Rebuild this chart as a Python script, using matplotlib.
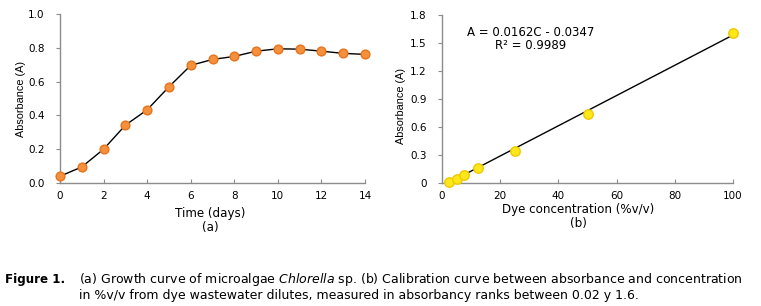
import matplotlib
matplotlib.use("Agg")
import matplotlib.pyplot as plt
import numpy as np

# (a) growth curve
days = [0, 1, 2, 3, 4, 5, 6, 7, 8, 9, 10, 11, 12, 13, 14]
absorb_a = [0.04, 0.095, 0.20, 0.342, 0.433, 0.569, 0.696, 0.731, 0.749, 0.78, 0.794, 0.792, 0.78, 0.767, 0.761]
# (b) calibration curve
conc = [2.5, 5, 7.5, 12.5, 25, 50, 100]
absorb_b = [0.01, 0.04, 0.09, 0.164, 0.343, 0.739, 1.607]
slope, intercept = 0.0162, -0.0347

a_xticks = [0, 2, 4, 6, 8, 10, 12, 14]
a_yticks = [0.0, 0.2, 0.4, 0.6, 0.8, 1.0]
b_xticks = [0, 20, 40, 60, 80, 100]
b_yticks = [0, 0.3, 0.6, 0.9, 1.2, 1.5, 1.8]
b_yticklabels = ["0", "0.3", "0.6", "0.9", "1.2", "1.5", "1.8"]

W, H = 761, 306
fig = plt.figure(figsize=(W / 100, H / 100), dpi=100)

def style(ax):
    for s in ["top", "right"]:
        ax.spines[s].set_visible(False)
    for s in ["left", "bottom"]:
        ax.spines[s].set_color("#8c8c8c")
        ax.spines[s].set_linewidth(1.0)
    ax.tick_params(axis="x", direction="in", length=3, color="#8c8c8c", labelsize=7.5, pad=6)
    ax.tick_params(axis="y", direction="out", length=3, color="#8c8c8c", labelsize=7.5, pad=8)

ax1 = fig.add_axes([60 / W, 1 - 183 / H, 305 / W, 169 / H])
ax1.plot(days, absorb_a, color="black", lw=1.0, zorder=2)
ax1.plot(days, absorb_a, "o", ms=6.3, mfc="#f5913c", mec="#e8731c", mew=1.0, zorder=3, clip_on=False)
ax1.set_xlim(0, 14)
ax1.set_ylim(0, 1.0)
ax1.set_xticks(a_xticks)
ax1.set_yticks(a_yticks)
ax1.set_yticklabels([f"{v:.1f}" for v in a_yticks])
style(ax1)

ax2 = fig.add_axes([442 / W, 1 - 183 / H, 291 / W, 168 / H])
xf = np.array([conc[0], conc[-1]])
ax2.plot(xf, slope * xf + intercept, color="black", lw=1.0, zorder=2)
ax2.plot(conc, absorb_b, "o", ms=6.8, mfc="#ffe81a", mec="#f0c800", mew=1.0, zorder=3, clip_on=False)
ax2.set_xlim(0, 100)
ax2.set_ylim(0, 1.8)
ax2.set_xticks(b_xticks)
ax2.set_yticks(b_yticks)
ax2.set_yticklabels(b_yticklabels)
style(ax2)
ax2.text(531 / W, 1 - 32 / H, f"A = {slope}C - {abs(intercept)}", transform=fig.transFigure,
         ha="center", va="center", fontsize=8.5)
ax2.text(531 / W, 1 - 45.5 / H, "R² = 0.9989", transform=fig.transFigure,
         ha="center", va="center", fontsize=8.5)

lab = dict(fontsize=8.6, ha="center", va="center")
fig.text(210 / W, 1 - 213 / H, "Time (days)", **lab)
fig.text(210 / W, 1 - 227 / H, "(a)", **lab)
fig.text(578 / W, 1 - 209.5 / H, "Dye concentration (%v/v)", **lab)
fig.text(578 / W, 1 - 223.5 / H, "(b)", **lab)
fig.text(21 / W, 1 - 99 / H, "Absorbance (A)", rotation=90, family="Liberation Sans", fontsize=7.8, ha="center", va="center")
fig.text(401 / W, 1 - 106 / H, "Absorbance (A)", rotation=90, family="Liberation Sans", fontsize=7.8, ha="center", va="center")

fig.text(5 / W, 1 - 283 / H, "Figure 1.", fontweight="bold", fontsize=8.6, va="baseline")
fig.text(79 / W, 1 - 283 / H,
         r"(a) Growth curve of microalgae $\it{Chlorella}$ sp. (b) Calibration curve between absorbance and concentration",
         fontsize=9.0, va="baseline")
fig.text(79 / W, 1 - 299 / H,
         "in %v/v from dye wastewater dilutes, measured in absorbancy ranks between 0.02 y 1.6.",
         fontsize=9.0, va="baseline")

fig.savefig("out.png", dpi=100)
